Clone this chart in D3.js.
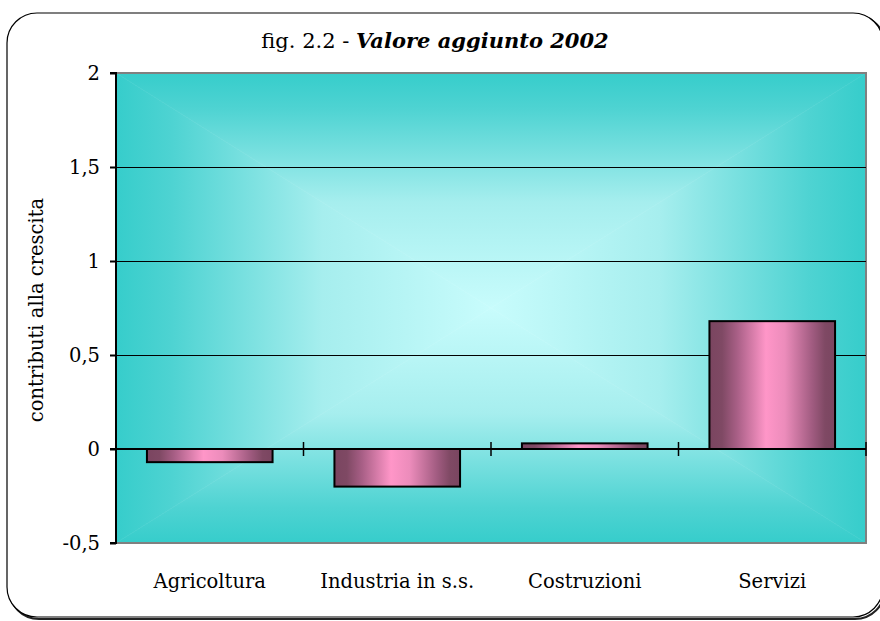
<!DOCTYPE html>
<html>
<head>
<meta charset="utf-8">
<script src="https://cdn.jsdelivr.net/npm/d3@7"></script>
<style>
  body { margin: 0; background: #fff; }
  svg { display: block; font-family: "DejaVu Serif", serif; }
</style>
</head>
<body>
<div id="chart"></div>
<script>
const categories = ["Agricoltura", "Industria in s.s.", "Costruzioni", "Servizi"];
const values = [-0.07, -0.2, 0.03, 0.68];
const yTicks = [-0.5, 0, 0.5, 1, 1.5, 2];

const w = 880, h = 621;
const pLeft = 116, pRight = 866, pTop = 73, pBottom = 543;
const fontFam = '"DejaVu Serif", serif';

const svg = d3.select('#chart').append('svg')
    .attr('width', w)
    .attr('height', h);

const defs = svg.append('defs');

const x = d3.scaleBand()
    .domain(categories)
    .range([pLeft, pRight])
    .paddingInner(0.33)
    .paddingOuter(0.165);

const xTicks = d3.scaleBand().domain(categories).range([pLeft, pRight]);

const y = d3.scaleLinear()
    .domain([-0.5, 2])
    .range([pBottom, pTop]);

// outer frame with a little shadow
svg.append('rect')
    .attr('x', 9).attr('y', 15)
    .attr('width', 876).attr('height', 604)
    .attr('rx', 30)
    .attr('fill', 'none')
    .attr('stroke', '#222')
    .attr('stroke-width', 2);
svg.append('rect')
    .attr('x', 7).attr('y', 13)
    .attr('width', 876).attr('height', 604)
    .attr('rx', 30)
    .attr('fill', '#fff')
    .attr('stroke', '#000')
    .attr('stroke-width', 1.2);

// plot background: gradient from the centre out to each edge
const cx = (pLeft + pRight) / 2, cy = (pTop + pBottom) / 2;
const light = '#c8fcfc', dark = '#36cdcb';
const sides = [
    { id: 'gT', pts: [[pLeft, pTop], [pRight, pTop], [cx, cy]], from: [cx, cy], to: [cx, pTop] },
    { id: 'gB', pts: [[pLeft, pBottom], [pRight, pBottom], [cx, cy]], from: [cx, cy], to: [cx, pBottom] },
    { id: 'gL', pts: [[pLeft, pTop], [pLeft, pBottom], [cx, cy]], from: [cx, cy], to: [pLeft, cy] },
    { id: 'gR', pts: [[pRight, pTop], [pRight, pBottom], [cx, cy]], from: [cx, cy], to: [pRight, cy] }
];
sides.forEach(s => {
    const g = defs.append('linearGradient')
        .attr('id', s.id)
        .attr('gradientUnits', 'userSpaceOnUse')
        .attr('x1', s.from[0]).attr('y1', s.from[1])
        .attr('x2', s.to[0]).attr('y2', s.to[1]);
    g.append('stop').attr('offset', 0).attr('stop-color', light);
    g.append('stop').attr('offset', 0.45).attr('stop-color', '#a6eeee');
    g.append('stop').attr('offset', 0.85).attr('stop-color', '#4ed3d2');
    g.append('stop').attr('offset', 1).attr('stop-color', dark);
    svg.append('polygon')
        .attr('points', s.pts.map(p => p.join(',')).join(' '))
        .attr('fill', `url(#${s.id})`)
        .attr('stroke', `url(#${s.id})`)
        .attr('stroke-width', 0.6);
});

svg.append('rect')
    .attr('x', pLeft).attr('y', pTop)
    .attr('width', pRight - pLeft).attr('height', pBottom - pTop)
    .attr('fill', 'none')
    .attr('stroke', '#808080')
    .attr('stroke-width', 2);

// gridlines
svg.append('g')
    .selectAll('line')
    .data(yTicks.filter(d => d > 0 && d < 2))
    .enter()
    .append('line')
    .attr('x1', pLeft).attr('x2', pRight)
    .attr('y1', d => Math.round(y(d)) + 0.5).attr('y2', d => Math.round(y(d)) + 0.5)
    .attr('stroke', '#000')
    .attr('stroke-width', 1);

// bar gradient
const bg = defs.append('linearGradient').attr('id', 'barGrad')
    .attr('x1', 0).attr('x2', 1).attr('y1', 0).attr('y2', 0);
[[0, '#7a4560'], [0.1, '#7f4964'], [0.22, '#a85f86'], [0.45, '#ff96c8'], [0.6, '#ec8cbb'], [0.82, '#a05b80'], [0.92, '#7f4964'], [1, '#7a4560']]
    .forEach(s => bg.append('stop').attr('offset', s[0]).attr('stop-color', s[1]));

svg.selectAll('.bar')
    .data(values)
    .enter()
    .append('rect')
    .attr('class', 'bar')
    .attr('x', (d, i) => x(categories[i]))
    .attr('y', d => y(Math.max(0, d)))
    .attr('width', x.bandwidth())
    .attr('height', d => Math.abs(y(d) - y(0)))
    .attr('fill', 'url(#barGrad)')
    .attr('stroke', '#000')
    .attr('stroke-width', 2);

// y axis
const yAxis = d3.axisLeft(y)
    .tickValues(yTicks)
    .tickSize(6)
    .tickPadding(10)
    .tickFormat(d => String(d).replace('.', ','));
const ya = svg.append('g')
    .attr('transform', `translate(${pLeft},0)`)
    .call(yAxis);
ya.select('.domain').attr('stroke-width', 2).attr('d', `M-6,${pTop}H0V${pBottom}H-6`);
ya.selectAll('.tick line').attr('stroke-width', 2);
ya.selectAll('text')
    .attr('font-family', fontFam)
    .attr('font-size', 19.5)
    .attr('fill', '#000');

// x axis on zero line
svg.append('line')
    .attr('x1', pLeft - 6).attr('x2', pRight)
    .attr('y1', y(0)).attr('y2', y(0))
    .attr('stroke', '#000').attr('stroke-width', 2);
svg.append('g')
    .selectAll('line')
    .data(categories.slice(1).map(c => xTicks(c)).concat([pRight]))
    .enter()
    .append('line')
    .attr('x1', d => d).attr('x2', d => d)
    .attr('y1', y(0) - 7).attr('y2', y(0) + 7)
    .attr('stroke', '#000').attr('stroke-width', 1.5);

// category labels
svg.append('g')
    .selectAll('text')
    .data(categories)
    .enter()
    .append('text')
    .attr('x', d => xTicks(d) + xTicks.bandwidth() / 2)
    .attr('y', 588)
    .attr('text-anchor', 'middle')
    .attr('font-size', 19.5)
    .text(d => d);

// y axis title
svg.append('text')
    .attr('transform', `translate(43,${cy + 2}) rotate(-90)`)
    .attr('text-anchor', 'middle')
    .attr('font-size', 19.5)
    .text('contributi alla crescita');

// title
const title = svg.append('text')
    .attr('x', 435)
    .attr('y', 48)
    .attr('text-anchor', 'middle')
    .attr('font-size', 21);
title.append('tspan').text('fig. 2.2 - ');
title.append('tspan')
    .attr('font-weight', 'bold')
    .attr('font-style', 'italic')
    .text('Valore aggiunto 2002');
</script>
</body>
</html>
